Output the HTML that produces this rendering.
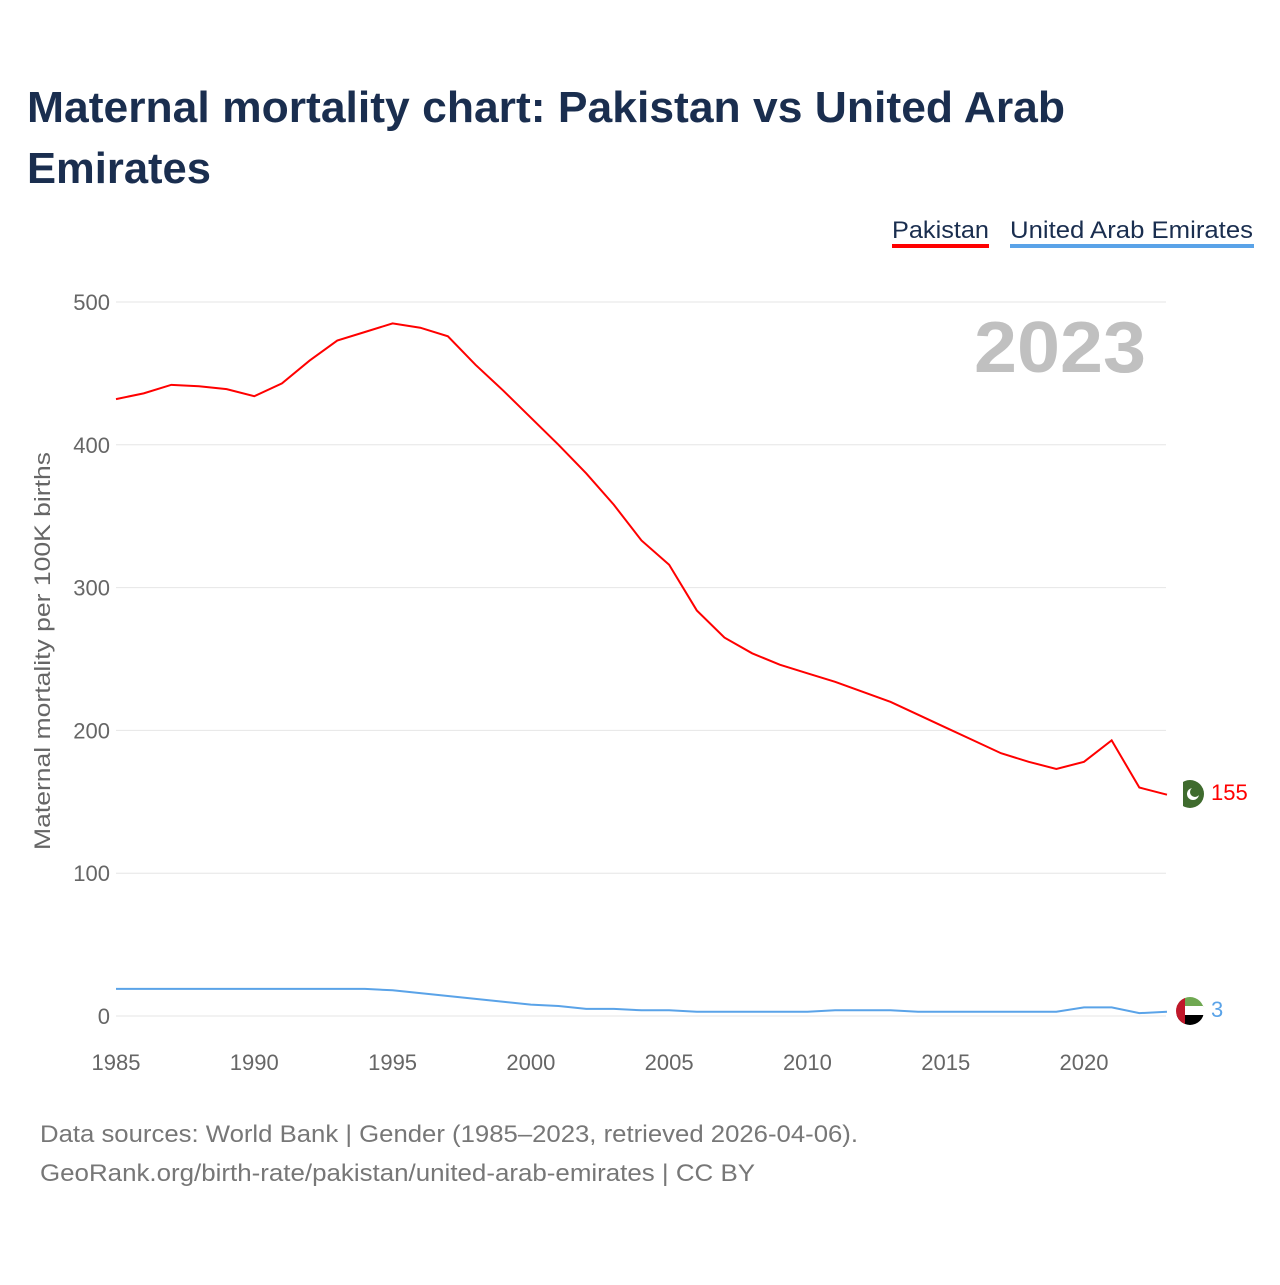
<!DOCTYPE html>
<html><head><meta charset="utf-8"><style>
body{margin:0;background:#fff;font-family:"Liberation Sans",sans-serif;}
svg text{font-family:"Liberation Sans",sans-serif;}
</style></head><body>
<svg id="c" width="1280" height="1280">
<text x="27" y="122" font-size="44" font-weight="bold" fill="#1a2e4f" textLength="1038" lengthAdjust="spacingAndGlyphs">Maternal mortality chart: Pakistan vs United Arab</text>
<text x="27" y="183" font-size="44" font-weight="bold" fill="#1a2e4f" textLength="184" lengthAdjust="spacingAndGlyphs">Emirates</text>
<g><text x="892" y="238" font-size="24" fill="#1a2e4f" textLength="97" lengthAdjust="spacingAndGlyphs">Pakistan</text><rect x="892" y="244" width="97" height="4" fill="#ff0000"/></g>
<g><text x="1010" y="238" font-size="24" fill="#1a2e4f" textLength="243" lengthAdjust="spacingAndGlyphs">United Arab Emirates</text><rect x="1010" y="244" width="244" height="4" fill="#5aa3e8"/></g>
<text x="1146" y="372" font-size="72" font-weight="bold" fill="#c0c0c0" text-anchor="end" textLength="172" lengthAdjust="spacingAndGlyphs">2023</text>
<g id="grid"></g><g id="xt"></g>
<text transform="translate(50,651) rotate(-90)" font-size="22" fill="#666" text-anchor="middle" textLength="398" lengthAdjust="spacingAndGlyphs">Maternal mortality per 100K births</text>
<g id="lines"></g>
<g><circle cx="1190" cy="794" r="14" fill="#3f6b2e"/><rect x="1176" y="780" width="7" height="28" fill="#fff"/><circle cx="1193" cy="794" r="6" fill="#fff"/><circle cx="1195" cy="792" r="5" fill="#3f6b2e"/></g>
<text x="1211" y="800" font-size="22" fill="#ff0000">155</text>
<g><clipPath id="fc"><circle cx="1190" cy="1011" r="14"/></clipPath><g clip-path="url(#fc)"><rect x="1176" y="997" width="28" height="10" fill="#6fa851"/><rect x="1176" y="1006" width="28" height="10" fill="#fff"/><rect x="1176" y="1015" width="28" height="10" fill="#000"/><rect x="1176" y="997" width="9" height="28" fill="#c0182a"/></g></g>
<text x="1211" y="1017" font-size="22" fill="#5aa3e8">3</text>
<text x="40" y="1142" font-size="24" fill="#777" textLength="818" lengthAdjust="spacingAndGlyphs">Data sources: World Bank | Gender (1985–2023, retrieved 2026-04-06).</text>
<text x="40" y="1181" font-size="24" fill="#777" textLength="715" lengthAdjust="spacingAndGlyphs">GeoRank.org/birth-rate/pakistan/united-arab-emirates | CC BY</text>
</svg>
<script>
const years=[];for(let y=1985;y<=2023;y++)years.push(y);
const pakistan=[432,436,442,441,439,434,443,459,473,479,485,482,476,456,438,419,400,380,358,333,316,284,265,254,246,240,234,227,220,211,202,193,184,178,173,178,193,160,155];
const uae=[19,19,19,19,19,19,19,19,19,19,18,16,14,12,10,8,7,5,5,4,4,3,3,3,3,3,4,4,4,3,3,3,3,3,3,6,6,2,3];
const yTicks=[0,100,200,300,400,500];
const xTicks=[1985,1990,1995,2000,2005,2010,2015,2020];
const X=v=>116+(v-1985)*(1084-116)/35, Y=v=>1016-v*714/500;
const ns="http://www.w3.org/2000/svg";
function mk(t,a,p){const e=document.createElementNS(ns,t);for(const k in a)e.setAttribute(k,a[k]);p.appendChild(e);return e;}
const g=document.getElementById('grid'),xt=document.getElementById('xt'),L=document.getElementById('lines');
yTicks.forEach(v=>{const l=mk('line',{x1:116,x2:1166,y1:Y(v),y2:Y(v),stroke:'#e6e6e6'},g);


const t=mk('text',{x:110,y:Y(v)+8,'font-size':22,fill:'#666','text-anchor':'end'},g);t.textContent=v;

});
xTicks.forEach(v=>{const t=mk('text',{x:X(v),y:1070,'font-size':22,fill:'#666','text-anchor':'middle'},xt);t.textContent=v;

});
function line(d,c,n){const p=mk('path',{d:d.map((v,i)=>(i?'L':'M')+X(years[i])+','+Y(v)).join(''),fill:'none',stroke:c,'stroke-width':2},L);

}
line(pakistan,'#ff0000','line-pakistan');line(uae,'#5aa3e8','line-uae');
</script>
</body></html>
